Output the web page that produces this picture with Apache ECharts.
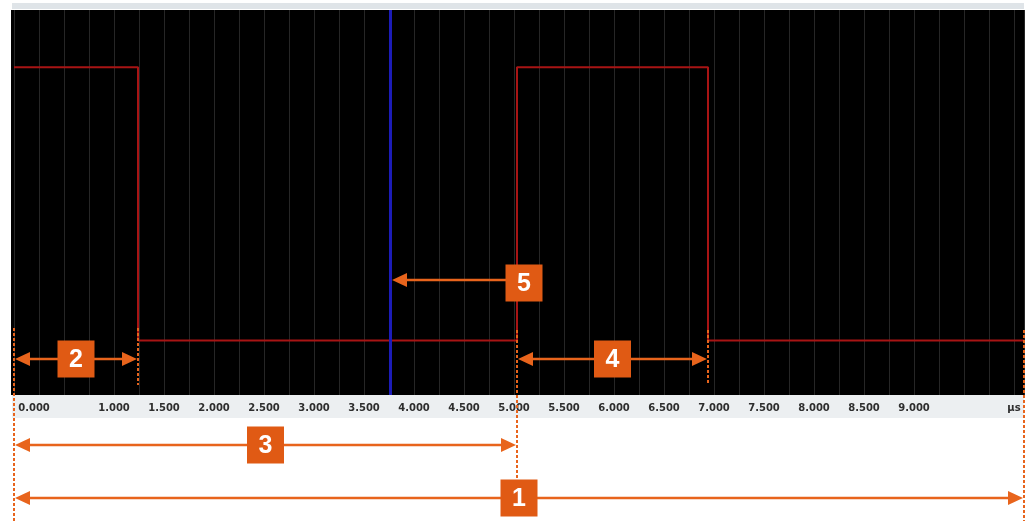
<!DOCTYPE html>
<html><head><meta charset="utf-8">
<script src="https://cdn.jsdelivr.net/npm/echarts@6/dist/echarts.min.js"></script>
<style>html,body{margin:0;padding:0;background:#fff}#c{width:1026px;height:521px}</style>
</head><body><div id="c"></div>
<script>
// ---- data ----
const timeUs = [0, 1.24, 1.24, 5.03, 5.03, 6.94, 6.94, 10.1];
const level  = [1, 1, 0, 0, 1, 1, 0, 0];
const cursorUs = 3.76;
const tickValues = [0, 1, 1.5, 2, 2.5, 3, 3.5, 4, 4.5, 5, 5.5, 6, 6.5, 7, 7.5, 8, 8.5, 9, 10];
const tickLabels = ['0.000','1.000','1.500','2.000','2.500','3.000','3.500','4.000','4.500','5.000','5.500','6.000','6.500','7.000','7.500','8.000','8.500','9.000','µs'];
const markerUs = [0, 1.24, 5.03, 6.94, 10.1];
const spanLabels = ['2', '4', '3', '1'];
const spanFrom = [0, 5.03, 0, 0];
const spanTo = [1.24, 6.94, 5.03, 10.1];
const pointerLabel = '5';

// ---- layout (pixels) ----
const markerTop = [328, 328, 330, 330, 330];
const markerBottom = [521, 385, 480, 385, 521];
const spanY = [359, 359, 445, 498];
const pointerY = 282, pointerBoxX = 524;
const ORANGE = '#e8641c', BOX = '#e05a14';

const chart = echarts.init(document.getElementById('c'), null, {renderer: 'canvas'});
const labelMap = {};
tickValues.forEach((v, i) => labelMap[v.toFixed(3)] = tickLabels[i]);

chart.setOption({
  animation: false,
  backgroundColor: '#ffffff',
  grid: {left: 14, right: 2, top: 10, bottom: 126, containLabel: false, outerBoundsMode: 'none'},
  xAxis: {
    type: 'value', min: 0, max: 10.1, interval: 0.25,
    axisLine: {show: false}, axisTick: {show: false},
    splitLine: {show: true, lineStyle: {color: '#262626', width: 1}},
    axisLabel: {
      show: true, customValues: tickValues, margin: 8,
      color: '#2e2e2e', fontFamily: 'DejaVu Sans', fontWeight: 'bold', fontSize: 10,
      formatter: function (v) {
        const t = labelMap[Number(v).toFixed(3)] || '';
        return v === 0 ? '{a|' + t + '}' : t;
      },
      rich: {a: {padding: [0, 0, 0, 40], color: '#2e2e2e', fontFamily: 'DejaVu Sans', fontWeight: 'bold', fontSize: 10}}
    }
  },
  yAxis: {type: 'value', min: -0.2, max: 1.21, show: false, splitLine: {show: false}},
  series: [{
    type: 'line', symbol: 'none', silent: true,
    data: timeUs.map((t, i) => [t, level[i]]),
    lineStyle: {color: '#a81414', width: 2},
    z: 3,
    markLine: {
      silent: true, symbol: ['none', 'none'], label: {show: false},
      lineStyle: {color: '#1c1cb8', width: 3, type: 'solid'},
      data: [{xAxis: cursorUs}]
    }
  }]
});

const px = v => chart.convertToPixel({xAxisIndex: 0}, v);
const g = [];
// backgrounds
g.push({type: 'rect', z: -10, shape: {x: 11, y: 10, width: 1013, height: 385}, style: {fill: '#000'}});
g.push({type: 'rect', z: -10, shape: {x: 12, y: 3, width: 1012, height: 6}, style: {fill: '#dfe4e8'}});
g.push({type: 'rect', z: -10, shape: {x: 12, y: 395, width: 1012, height: 23}, style: {fill: '#eceff1'}});

// dashed markers
markerUs.forEach((v, i) => {
  let x = Math.min(px(v), 1024);
  g.push({type: 'line', z: 100, shape: {x1: x, y1: markerTop[i], x2: x, y2: markerBottom[i]},
    style: {stroke: ORANGE, lineWidth: 2, lineDash: [3, 2]}});
});

function head(tx, ty, dir) { // dir: -1 left, +1 right
  return {type: 'polygon', z: 101, shape: {points: [[tx, ty], [tx - dir * 15, ty - 7], [tx - dir * 15, ty + 7]]}, style: {fill: ORANGE}};
}
function box(cx, cy, txt) {
  g.push({type: 'rect', z: 102, shape: {x: cx - 18.5, y: cy - 18.5, width: 37, height: 37}, style: {fill: BOX}});
  g.push({type: 'text', z: 103, x: cx, y: cy + 1, style: {text: txt, fill: '#fff', font: 'bold 25px "Liberation Sans", Arial, sans-serif', align: 'center', verticalAlign: 'middle'}});
}

spanLabels.forEach((lab, i) => {
  const x1 = px(spanFrom[i]) + 1, x2 = Math.min(px(spanTo[i]), 1024) - 1, y = spanY[i];
  g.push({type: 'line', z: 100, shape: {x1: x1 + 4, y1: y, x2: x2 - 4, y2: y}, style: {stroke: ORANGE, lineWidth: 2.5}});
  g.push(head(x1, y, -1));
  g.push(head(x2, y, 1));
  box((x1 + x2) / 2, y, lab);
});

// pointer to cursor
const cx = px(cursorUs) + 2;
g.push({type: 'line', z: 100, shape: {x1: cx + 4, y1: pointerY - 2, x2: pointerBoxX, y2: pointerY - 2}, style: {stroke: ORANGE, lineWidth: 2.5}});
g.push(head(cx, pointerY - 2, -1));
box(pointerBoxX, pointerY + 1, pointerLabel);

chart.setOption({graphic: g});
</script></body></html>
